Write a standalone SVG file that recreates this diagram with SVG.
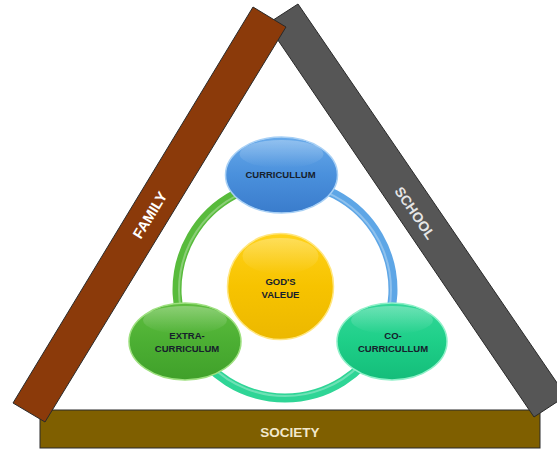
<svg xmlns="http://www.w3.org/2000/svg" width="557" height="451" viewBox="0 0 557 451">
<style>
.bar{stroke:#2a2a2a;stroke-width:1}
.barlbl{font-family:"Liberation Sans",Arial,sans-serif;font-weight:bold;text-anchor:middle;dominant-baseline:central}
.lbl{font-family:"Liberation Sans",Arial,sans-serif;font-weight:bold;font-size:9.5px;text-anchor:middle;dominant-baseline:central;fill:#16202c}
.ring{fill:none;stroke-width:9;stroke-linecap:butt}
.gloss{fill:none;stroke:#ffffff;stroke-opacity:0.3;stroke-width:2}
.rim{stroke-width:1.5}
</style>
<defs>
<linearGradient id="gBlue" x1="0" y1="0" x2="0" y2="1">
<stop offset="0" stop-color="#68aaea"/><stop offset="0.5" stop-color="#4a90dc"/><stop offset="1" stop-color="#3a7ccc"/>
</linearGradient>
<linearGradient id="gYellow" x1="0" y1="0" x2="0" y2="1">
<stop offset="0" stop-color="#ffd21a"/><stop offset="0.5" stop-color="#f7c300"/><stop offset="1" stop-color="#ecb800"/>
</linearGradient>
<linearGradient id="gGreen" x1="0" y1="0" x2="0" y2="1">
<stop offset="0" stop-color="#60be40"/><stop offset="0.5" stop-color="#4caf33"/><stop offset="1" stop-color="#40a02a"/>
</linearGradient>
<linearGradient id="gTeal" x1="0" y1="0" x2="0" y2="1">
<stop offset="0" stop-color="#34d89a"/><stop offset="0.5" stop-color="#1ecf88"/><stop offset="1" stop-color="#14bd7a"/>
</linearGradient>
<linearGradient id="gShine" x1="0" y1="0" x2="0" y2="1">
<stop offset="0" stop-color="#ffffff" stop-opacity="0.28"/><stop offset="1" stop-color="#ffffff" stop-opacity="0"/>
</linearGradient>
</defs>
<rect width="557" height="451" fill="#ffffff"/>

<g id="society">
<rect class="bar" x="40" y="410" width="500" height="38" fill="#7f5f00"/>
<text class="barlbl" x="290" y="432" font-size="13.5" fill="#f2e8cc">SOCIETY</text>
</g>
<g id="school">
<polygon class="bar" points="298,4 267,24 534,417 566,396" fill="#565656"/>
<text class="barlbl" x="415" y="213" font-size="14" fill="#e6e6e6" transform="rotate(55.8 415 213)">SCHOOL</text>
</g>
<g id="family">
<polygon class="bar" points="253,7 286,27 45,422 13,403" fill="#8b3a0a"/>
<text class="barlbl" x="150" y="215" font-size="14.5" fill="#ffffff" transform="rotate(-58.8 150 215)">FAMILY</text>
</g>

<g id="connectors">
<path class="ring" stroke="#5ea6e6" d="M285,182 A108,108 0 0 1 378.5,344"/>
<path class="ring" stroke="#2fd596" d="M378.5,344 A108,108 0 0 1 191.5,344"/>
<path class="ring" stroke="#58bb3c" d="M191.5,344 A108,108 0 0 1 285,182"/>
<circle class="gloss" cx="285" cy="290" r="106"/>
</g>

<g id="gods-valeue">
<circle class="rim" cx="280.5" cy="286.5" r="53" fill="url(#gYellow)" stroke="#ffe680"/>
<ellipse cx="280.5" cy="256" rx="38" ry="18" fill="url(#gShine)"/>
<text class="lbl" x="280.5" y="281" font-size="10.5">GOD'S</text>
<text class="lbl" x="280.5" y="294" font-size="10.5">VALEUE</text>
</g>
<g id="curriculum">
<ellipse class="rim" cx="281.5" cy="175" rx="56" ry="38" fill="url(#gBlue)" stroke="#a8d0f5"/>
<ellipse cx="281.5" cy="154" rx="42" ry="14" fill="url(#gShine)"/>
<text class="lbl" x="280.5" y="174">CURRICULLUM</text>
</g>
<g id="extra-curriculum">
<ellipse class="rim" cx="185" cy="341.5" rx="56" ry="38.5" fill="url(#gGreen)" stroke="#9ee080"/>
<ellipse cx="185" cy="320" rx="42" ry="14" fill="url(#gShine)"/>
<text class="lbl" x="187" y="335">EXTRA-</text>
<text class="lbl" x="187" y="348">CURRICULUM</text>
</g>
<g id="co-curriculum">
<ellipse class="rim" cx="392" cy="341.5" rx="55" ry="38.5" fill="url(#gTeal)" stroke="#8ff0c8"/>
<ellipse cx="392" cy="320" rx="41" ry="14" fill="url(#gShine)"/>
<text class="lbl" x="393" y="335">CO-</text>
<text class="lbl" x="393" y="348">CURRICULLUM</text>
</g>
</svg>
